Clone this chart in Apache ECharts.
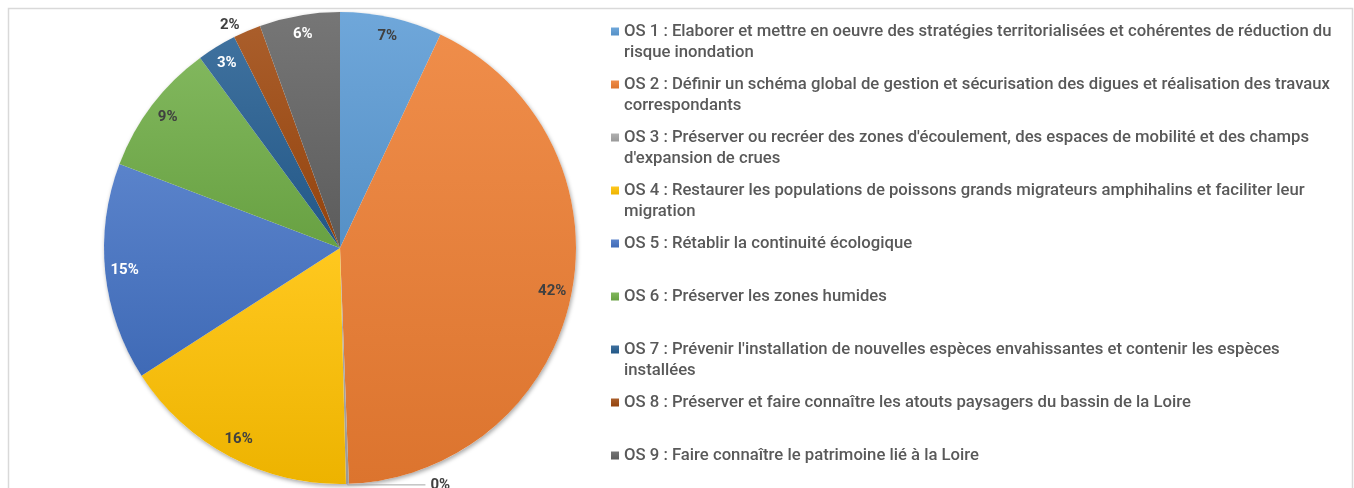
<!DOCTYPE html>
<html>
<head>
<meta charset="utf-8">
<title>Objectifs stratégiques</title>
<script src="https://cdn.jsdelivr.net/npm/echarts@6/dist/echarts.min.js"></script>
<style>
  html, body { margin: 0; padding: 0; background: #fff; }
  #chart { width: 1354px; height: 488px; }
</style>
</head>
<body>
<div id="chart"></div>
<script>
// categories (full names) and the way the legend wraps them
var categories = [
    "OS 1 : Elaborer et mettre en oeuvre des stratégies territorialisées et cohérentes de réduction du risque inondation",
    "OS 2 : Définir un schéma global de gestion et sécurisation des digues et réalisation des travaux correspondants",
    "OS 3 : Préserver ou recréer des zones d'écoulement, des espaces de mobilité et des champs d'expansion de crues",
    "OS 4 : Restaurer les populations de poissons grands migrateurs amphihalins et faciliter leur migration",
    "OS 5 : Rétablir la continuité écologique",
    "OS 6 : Préserver les zones humides",
    "OS 7 : Prévenir l'installation de nouvelles espèces envahissantes et contenir les espèces installées",
    "OS 8 : Préserver et faire connaître les atouts paysagers du bassin de la Loire",
    "OS 9 : Faire connaître le patrimoine lié à la Loire"
];
var legendLines = [
    ["OS 1 : Elaborer et mettre en oeuvre des stratégies territorialisées et cohérentes de réduction du", "risque inondation"],
    ["OS 2 : Définir un schéma global de gestion et sécurisation des digues et réalisation des travaux", "correspondants"],
    ["OS 3 : Préserver ou recréer des zones d'écoulement, des espaces de mobilité et des champs", "d'expansion de crues"],
    ["OS 4 : Restaurer les populations de poissons grands migrateurs amphihalins et faciliter leur", "migration"],
    ["OS 5 : Rétablir la continuité écologique"],
    ["OS 6 : Préserver les zones humides"],
    ["OS 7 : Prévenir l'installation de nouvelles espèces envahissantes et contenir les espèces", "installées"],
    ["OS 8 : Préserver et faire connaître les atouts paysagers du bassin de la Loire"],
    ["OS 9 : Faire connaître le patrimoine lié à la Loire"]
];

// share of each objective (%)
var values = [7.0, 42.4, 0.2, 16.3, 14.9, 9.1, 2.7, 1.9, 5.5];

var colors = ['#5B9BD5', '#ED7D31', '#A5A5A5', '#FFC000', '#4472C4', '#70AD47', '#255E91', '#9E480E', '#636363'];
var labelColors = ['#404040', '#404040', '#404040', '#404040', '#ffffff', '#404040', '#ffffff', '#404040', '#ffffff'];

function shade(hex, t) {
    var n = parseInt(hex.slice(1), 16);
    var rgb = [(n >> 16) & 255, (n >> 8) & 255, n & 255];
    var target = t > 0 ? 255 : 0;
    var k = Math.abs(t);
    return 'rgb(' + rgb.map(function (c) { return Math.round(c + (target - c) * k); }).join(',') + ')';
}

function gradient(hex) {
    return new echarts.graphic.LinearGradient(0, 0, 0, 1, [
        { offset: 0, color: shade(hex, 0.12) },
        { offset: 1, color: shade(hex, -0.07) }
    ]);
}

var chart = echarts.init(document.getElementById('chart'));

var CENTER = [340, 248];
var R = 236;

var pieData = categories.map(function (name, i) {
    return { name: name, value: values[i], itemStyle: { color: gradient(colors[i]) } };
});

// transparent ring used only to place the labels near the rim, like Excel does
var labelData = categories.map(function (name, i) {
    var item = {
        name: name,
        value: values[i],
        label: { color: labelColors[i] }
    };
    if (i === 2) {
        item.label.position = 'outside';
        item.labelLine = { show: true, length: 1, length2: 78, lineStyle: { color: '#A6A6A6', width: 1 } };
    }
    if (i === 7) {
        item.label.position = 'outside';
        item.labelLine = { show: false, length: 6, length2: 0 };
    }
    return item;
});

// every legend entry is 3 lines tall so that the marker sits on the first text line
function legendText(name) {
    var lines = legendLines[categories.indexOf(name)];
    return lines.length > 1 ? '\n' + lines.join('\n') : '\n' + lines[0] + '\n';
}

var option = {
    animation: false,
    graphic: [{
        type: 'rect',
        silent: true,
        z: -10,
        shape: { x: 8.5, y: 8.5, width: 1344, height: 500 },
        style: { fill: 'none', stroke: '#D9D9D9', lineWidth: 1.5 }
    }],
    legend: {
        orient: 'vertical',
        left: 611,
        top: 0,
        padding: 0,
        itemGap: -10,
        itemWidth: 8,
        itemHeight: 8,
        icon: 'rect',
        selectedMode: false,
        data: categories,
        formatter: legendText,
        textStyle: {
            fontFamily: 'Roboto',
            fontSize: 16.7,
            fontWeight: 500,
            lineHeight: 21,
            color: '#595959',
            backgroundColor: 'rgba(0,0,0,0)'
        }
    },
    series: [
        {
            // soft shadow behind the pie
            type: 'pie',
            silent: true,
            center: CENTER,
            radius: R,
            z: 1,
            label: { show: false },
            labelLine: { show: false },
            data: [{ value: 1, itemStyle: { color: '#ffffff', shadowBlur: 4, shadowOffsetX: 1, shadowOffsetY: 2, shadowColor: 'rgba(0,0,0,0.35)' } }]
        },
        {
            type: 'pie',
            silent: true,
            center: CENTER,
            radius: R,
            z: 2,
            label: { show: false },
            labelLine: { show: false },
            data: pieData
        },
        {
            type: 'pie',
            silent: true,
            center: CENTER,
            radius: [R * 0.81, R],
            z: 3,
            avoidLabelOverlap: false,
            itemStyle: { color: 'rgba(0,0,0,0)' },
            label: {
                show: true,
                position: 'inside',
                fontFamily: 'Roboto',
                fontSize: 15,
                fontWeight: 'bold',
                formatter: function (p) { return Math.round(p.percent) + '%'; }
            },
            labelLine: { show: false },
            data: labelData
        }
    ]
};

chart.setOption(option);
</script>
</body>
</html>
